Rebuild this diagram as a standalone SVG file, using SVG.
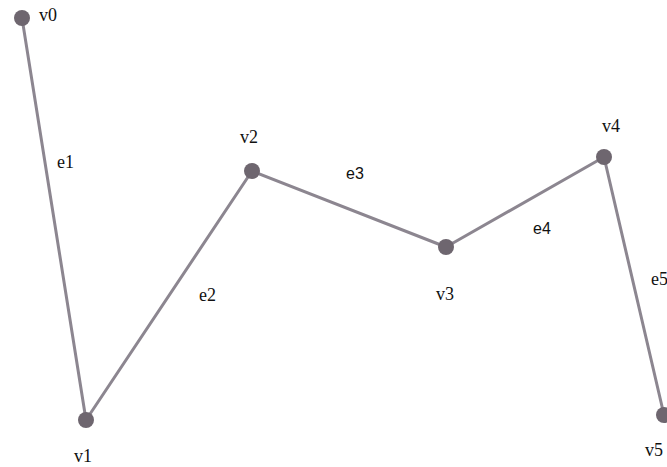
<svg xmlns="http://www.w3.org/2000/svg" width="667" height="467" viewBox="0 0 667 467">
<style>
.edge{stroke:#8c8690;stroke-width:3;fill:none;stroke-linecap:round}
.v{fill:#6e666f}
.t{font-family:"Liberation Serif",serif;font-size:18px;fill:#111}
.s{font-family:"Liberation Sans",sans-serif;font-size:16px;fill:#111}
</style>
<rect width="667" height="467" fill="#ffffff"/>
<g id="edges">
<line class="edge" x1="22" y1="18" x2="86" y2="420"/>
<line class="edge" x1="86" y1="420" x2="252" y2="171"/>
<line class="edge" x1="252" y1="171" x2="446" y2="247"/>
<line class="edge" x1="446" y1="247" x2="604" y2="157"/>
<line class="edge" x1="604" y1="157" x2="664" y2="415"/>
<text class="t" x="57" y="168">e1</text>
<text class="t" x="199" y="301">e2</text>
<text class="s" x="346" y="179">e3</text>
<text class="s" x="533" y="234">e4</text>
<text class="t" x="651" y="285">e5</text>
</g>
<g id="v0"><circle class="v" cx="22" cy="18" r="8"/><text class="t" x="39" y="21">v0</text></g>
<g id="v1"><circle class="v" cx="86" cy="420" r="8"/><text class="t" x="74" y="462">v1</text></g>
<g id="v2"><circle class="v" cx="252" cy="171" r="8"/><text class="t" x="240" y="143">v2</text></g>
<g id="v3"><circle class="v" cx="446" cy="247" r="8"/><text class="t" x="436" y="300">v3</text></g>
<g id="v4"><circle class="v" cx="604" cy="157" r="8"/><text class="t" x="602" y="132">v4</text></g>
<g id="v5"><circle class="v" cx="664" cy="415" r="8"/><text class="t" x="645" y="456">v5</text></g>
</svg>
